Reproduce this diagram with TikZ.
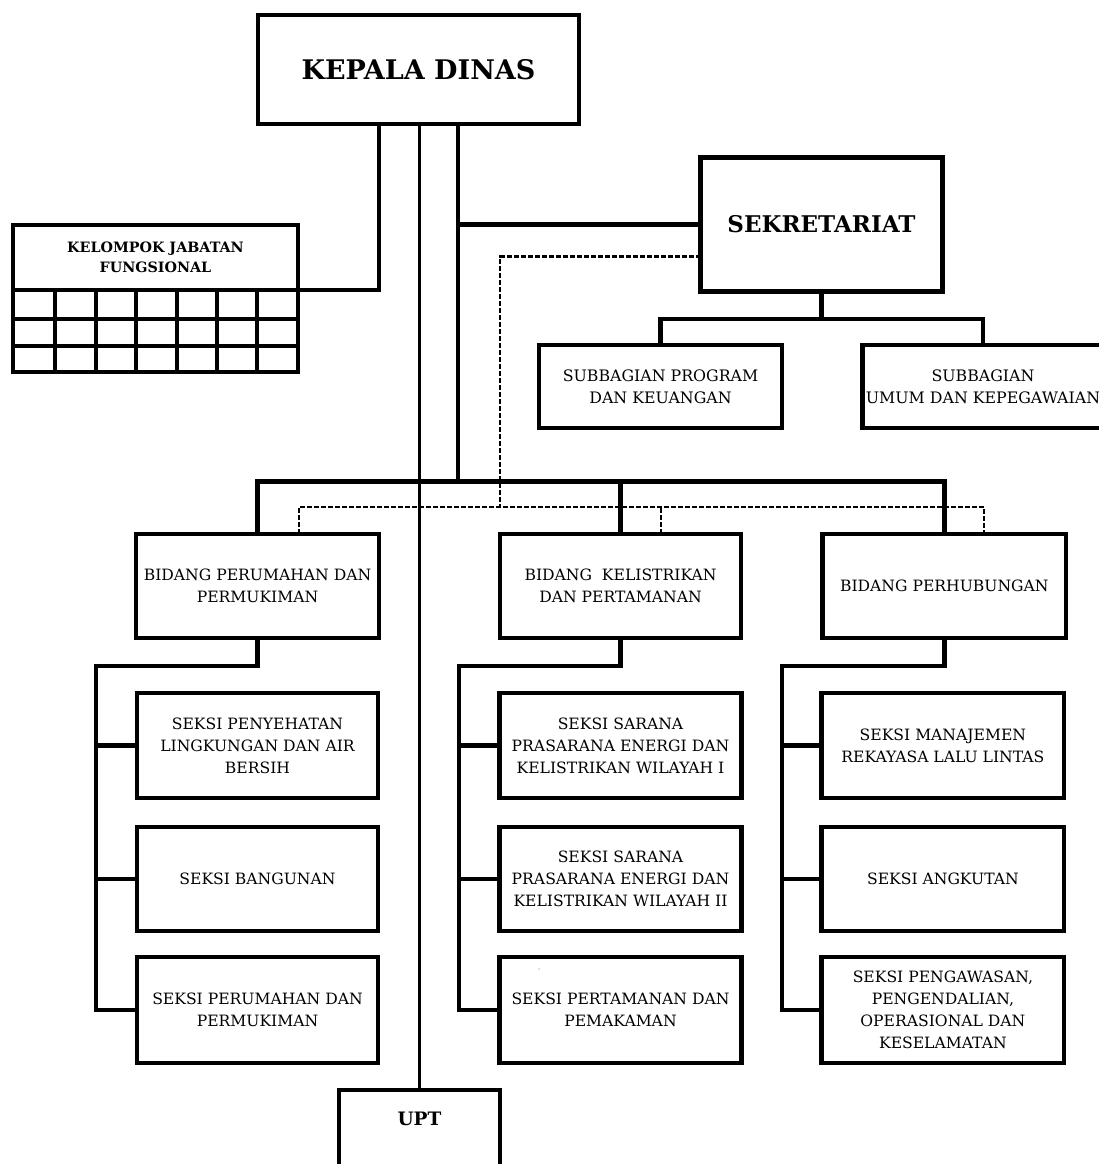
\documentclass[tikz,border=0pt]{standalone}
\usepackage{fontspec}
\setmainfont{DejaVu Serif}
\begin{document}
\begin{tikzpicture}[x=1pt,y=-1pt,
  box/.style={draw, line width=4.6pt, inner sep=0pt, outer sep=0pt, align=center, fill=white},
  kepfont/.style={font=\bfseries\fontsize{27}{32}\selectfont},
  sekfont/.style={font=\bfseries\fontsize{23}{27}\selectfont},
  kelfont/.style={font=\bfseries\fontsize{14.3}{20.5}\selectfont},
  uptfont/.style={font=\bfseries\fontsize{18.5}{22}\selectfont},
  subfont/.style={font=\fontsize{15.8}{22.5}\selectfont},
  bidfont/.style={font=\fontsize{15.6}{22}\selectfont},
  sekfontx/.style={font=\fontsize{15.6}{22}\selectfont},
  conn/.style={line width=4.6pt, line join=miter},
  thinconn/.style={line width=2.5pt},
  dashconn/.style={line width=2.4pt, dash pattern=on 5pt off 2pt},
  gridline/.style={line width=3.2pt}
]
\useasboundingbox[fill=white] (0,0) rectangle (1099,1164);

\coordinate (bus) at (458,481.5);
\coordinate (dbus) at (500,507);
\coordinate (sbus) at (821.5,319);
\coordinate (trunk1) at (96,666);
\coordinate (trunk2) at (459,666);
\coordinate (trunk3) at (782,666);

% main nodes
\node[box, kepfont, minimum width=321, minimum height=109] (kepala) at (418.5,69.5) {KEPALA DINAS};
\node[box, sekfont, minimum width=242, minimum height=134] (sek) at (821.5,224.5) {SEKRETARIAT};
\node[box, kelfont, minimum width=285, minimum height=65] (kelhead) at (155.5,257.5) {KELOMPOK JABATAN\\FUNGSIONAL};
\node[box, subfont, minimum width=243, minimum height=83] (sub1) at (660.5,386.5) {SUBBAGIAN PROGRAM\\DAN KEUANGAN};
\node[box, subfont, minimum width=240.6, minimum height=83] (sub2) at (983,386.5) {SUBBAGIAN\\UMUM DAN KEPEGAWAIAN};

\node[box, bidfont, minimum width=243, minimum height=104] (bid1) at (257.5,586) {BIDANG PERUMAHAN DAN\\PERMUKIMAN};
\node[box, bidfont, minimum width=241, minimum height=104] (bid2) at (620.5,586) {BIDANG\ \ KELISTRIKAN\\DAN PERTAMANAN};
\node[box, bidfont, minimum width=243.4, minimum height=104] (bid3) at (944.3,586) {BIDANG PERHUBUNGAN};

\node[box, sekfontx, minimum width=241, minimum height=105] (s11) at (257.5,745.5) {SEKSI PENYEHATAN\\LINGKUNGAN DAN AIR\\BERSIH};
\node[box, sekfontx, minimum width=241, minimum height=104] (s12) at (257.5,879) {SEKSI BANGUNAN};
\node[box, sekfontx, minimum width=241, minimum height=106] (s13) at (257.5,1010) {SEKSI PERUMAHAN DAN\\PERMUKIMAN};

\node[box, sekfontx, minimum width=242.4, minimum height=105] (s21) at (620.5,745.5) {SEKSI SARANA\\PRASARANA ENERGI DAN\\KELISTRIKAN WILAYAH I};
\node[box, sekfontx, minimum width=242.4, minimum height=104] (s22) at (620.5,879) {SEKSI SARANA\\PRASARANA ENERGI DAN\\KELISTRIKAN WILAYAH II};
\node[box, sekfontx, minimum width=242.4, minimum height=106] (s23) at (620.5,1010) {SEKSI PERTAMANAN DAN\\PEMAKAMAN};

\node[box, sekfontx, minimum width=242.3, minimum height=105] (s31) at (942.9,745.5) {SEKSI MANAJEMEN\\REKAYASA LALU LINTAS};
\node[box, sekfontx, minimum width=242.3, minimum height=104] (s32) at (942.9,879) {SEKSI ANGKUTAN};
\node[box, sekfontx, minimum width=242.3, minimum height=106] (s33) at (942.9,1010) {SEKSI PENGAWASAN,\\PENGENDALIAN,\\OPERASIONAL DAN\\KESELAMATAN};

\node[box, uptfont, minimum width=161, minimum height=150, anchor=north] (upt) at (419.5,1090) {\raisebox{40pt}[0pt][0pt]{UPT}};

% Kelompok grid
\draw[gridline] (13,319) -- (298,319);
\draw[gridline] (13,346) -- (298,346);
\foreach \cx in {55,96,136,177,217,257} \draw[gridline] (\cx,290) -- (\cx,372);
\draw[conn] (kelhead.south west) -- (13,372) -- (298,372) -- (kelhead.south east);

% connectors from Kepala Dinas
\draw[conn] ([xshift=-39.5pt]kepala.south) |- (kelhead.south east);
\draw[thinconn] (kepala.south -| upt.north) -- (upt.north);
\draw[conn] ([xshift=39.5pt]kepala.south) -- (bus);
\draw[conn] (sek.west) -- (sek.west -| bus);
\draw[conn] (bid1.north) |- (bus) -| (bid3.north);
\draw[conn] (bid2.north) -- (bid2.north |- bus);

% dashed coordination lines
\draw[dashconn] ([yshift=-32pt]sek.west) -| (dbus);
\draw[dashconn] ([xshift=41.5pt]bid1.north) |- (dbus) -| ([xshift=39.7pt]bid3.north);
\draw[dashconn] ([xshift=40.5pt]bid2.north) -- ([xshift=40.5pt]bid2.north |- dbus);

% Sekretariat to subbagian
\draw[conn] (sek.south) -- (sbus);
\draw[conn] (sub1.north) |- (sbus) -| (sub2.north);

% Bidang to seksi
\draw[conn] (bid1.south) |- (trunk1) |- (s13.west);
\draw[conn] (s11.west) -- (s11.west -| trunk1);
\draw[conn] (s12.west) -- (s12.west -| trunk1);
\draw[conn] (bid2.south) |- (trunk2) |- (s23.west);
\draw[conn] (s21.west) -- (s21.west -| trunk2);
\draw[conn] (s22.west) -- (s22.west -| trunk2);
\draw[conn] (bid3.south) |- (trunk3) |- (s33.west);
\draw[conn] (s31.west) -- (s31.west -| trunk3);
\draw[conn] (s32.west) -- (s32.west -| trunk3);

\fill[gray] (539,969) circle (0.7pt);
\end{tikzpicture}
\end{document}
